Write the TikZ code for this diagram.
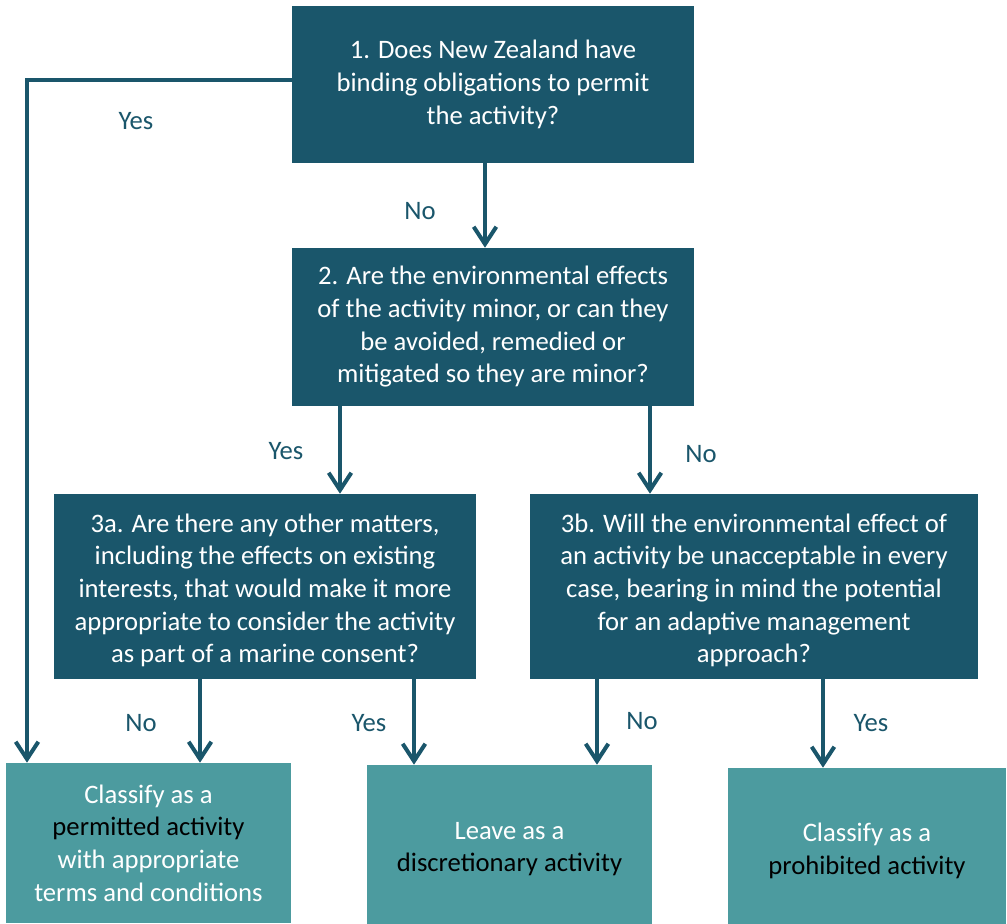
\documentclass[tikz,border=0pt]{standalone}
\usepackage{fontspec}
\setmainfont{Carlito}
\usetikzlibrary{arrows.meta}
\definecolor{dteal}{RGB}{26,86,107}
\definecolor{lteal}{RGB}{76,155,159}
\newcommand{\topstrut}{\rule{0pt}{19.5pt}}
\tikzset{
  dbox/.style={fill=dteal, text=white, align=center, inner sep=0pt,
    font=\fontsize{20pt}{24.5pt}\selectfont},
  lbox/.style={fill=lteal, text=white, align=center, inner sep=0pt,
    font=\fontsize{20pt}{24.5pt}\selectfont},
  lbl/.style={text=dteal, inner sep=0pt, font=\fontsize{20pt}{24.5pt}\selectfont},
  conn/.style={draw=dteal, line width=3pt},
  arr/.style={conn, -{Straight Barb[length=13pt, width=17pt, line width=3pt]}}
}
\begin{document}
\begin{tikzpicture}[x=0.75pt, y=-0.75pt]
\useasboundingbox (0,0) rectangle (1007,924);
\node[dbox, minimum width=301.5pt, minimum height=117.75pt] (q1) at (493,84.5)
  {1. Does New Zealand have\\binding obligations to permit\\the activity?};
\node[dbox, minimum width=301.5pt, minimum height=118.5pt] (q2) at (493,327)
  {2. Are the environmental effects\\of the activity minor, or can they\\be avoided, remedied or\\mitigated so they are minor?};
\node[dbox, minimum width=316.5pt, minimum height=138.75pt] (q3a) at (265,586.5)
  {\topstrut 3a. Are there any other matters,\\including the effects on existing\\interests, that would make it more\\appropriate to consider the activity\\as part of a marine consent?};
\node[dbox, minimum width=336pt, minimum height=138.75pt] (q3b) at (754,586.5)
  {\topstrut 3b. Will the environmental effect of\\an activity be unacceptable in every\\case, bearing in mind the potential\\for an adaptive management\\approach?};
\node[lbox, minimum width=213.75pt, minimum height=120pt] (ra) at (148.5,843)
  {Classify as a\\\textcolor{black}{permitted activity}\\with appropriate\\terms and conditions};
\node[lbox, minimum width=213.75pt, minimum height=119.25pt] (rb) at (509.5,844.5)
  {\topstrut Leave as a\\\textcolor{black}{discretionary activity}};
\node[lbox, minimum width=208.5pt, minimum height=117pt] (rc) at (867,846)
  {\rule{0pt}{21pt}Classify as a\\\textcolor{black}{prohibited activity}};

\coordinate (x27) at (27,0);
\coordinate (x485) at (485,0);
\coordinate (x340) at (340,0);
\coordinate (x650) at (650,0);
\coordinate (x200) at (200,0);
\coordinate (x414) at (414,0);
\coordinate (x597) at (597,0);
\coordinate (x823) at (823,0);

\draw[arr] ([yshift=3.4pt]q1.west) -| (ra.north -| x27);
\draw[arr] (q1.south -| x485) -- (q2.north -| x485);
\draw[arr] (q2.south -| x340) -- (q3a.north -| x340);
\draw[arr] (q2.south -| x650) -- (q3b.north -| x650);
\draw[arr] (q3a.south -| x200) -- (ra.north -| x200);
\draw[arr] (q3a.south -| x414) -- (rb.north -| x414);
\draw[arr] (q3b.south -| x597) -- (rb.north -| x597);
\draw[arr] (q3b.south -| x823) -- (rc.north -| x823);

\node[lbl] (l1) at (136,121) {Yes};
\node[lbl] (l2) at (420,211) {No};
\node[lbl] (l3) at (286,451) {Yes};
\node[lbl] (l4) at (701,454) {No};
\node[lbl] (l5) at (141,723) {No};
\node[lbl] (l6) at (369,723) {Yes};
\node[lbl] (l7) at (642,721) {No};
\node[lbl] (l8) at (871,723) {Yes};
\end{tikzpicture}
\end{document}
